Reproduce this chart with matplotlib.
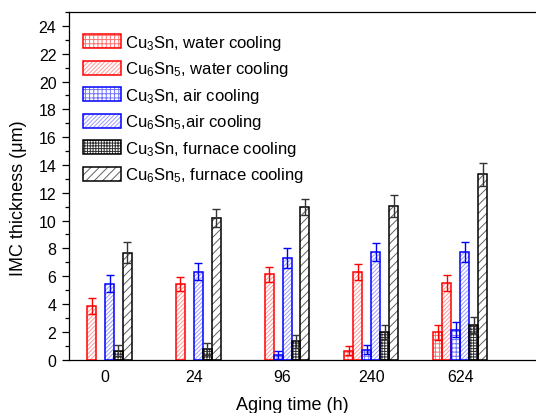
import matplotlib
matplotlib.use("Agg")
import matplotlib.pyplot as plt
from matplotlib.patches import Patch
from matplotlib.legend_handler import HandlerTuple
from matplotlib.ticker import MultipleLocator
import numpy as np

# 数据
hours = ["0", "24", "96", "240", "624"]
nan = np.nan

cu3sn_water = [nan, nan, nan, 0.65, 1.97]
cu3sn_water_err = [nan, nan, nan, 0.31, 0.55]
cu6sn5_water = [3.84, 5.43, 6.13, 6.27, 5.50]
cu6sn5_water_err = [0.58, 0.53, 0.53, 0.58, 0.58]
cu3sn_air = [nan, nan, 0.36, 0.72, 2.16]
cu3sn_air_err = [nan, nan, 0.29, 0.31, 0.53]
cu6sn5_air = [5.45, 6.32, 7.33, 7.73, 7.73]
cu6sn5_air_err = [0.60, 0.60, 0.72, 0.65, 0.70]
cu3sn_furnace = [0.65, 0.75, 1.32, 1.97, 2.47]
cu3sn_furnace_err = [0.40, 0.42, 0.48, 0.50, 0.58]
cu6sn5_furnace = [7.69, 10.16, 10.98, 11.05, 13.33]
cu6sn5_furnace_err = [0.74, 0.65, 0.55, 0.77, 0.82]

labels = [
    "Cu$_3$Sn, water cooling",
    "Cu$_6$Sn$_5$, water cooling",
    "Cu$_3$Sn, air cooling",
    "Cu$_6$Sn$_5$,air cooling",
    "Cu$_3$Sn, furnace cooling",
    "Cu$_6$Sn$_5$, furnace cooling",
]
values = [cu3sn_water, cu6sn5_water, cu3sn_air, cu6sn5_air, cu3sn_furnace, cu6sn5_furnace]
errors = [cu3sn_water_err, cu6sn5_water_err, cu3sn_air_err, cu6sn5_air_err,
          cu3sn_furnace_err, cu6sn5_furnace_err]

# 样式
edge_colors = ["#ff0000", "#ff0000", "#0000ff", "#0000ff", "#000000", "#000000"]
hatch_colors = ["#ff7070", "#ff9a9a", "#7070ff", "#9a9aff", "#303030", "#606060"]
hatches = ["++++", "////////", "++++", "////////", "++++++", "////"]
err_colors = ["#ff0000", "#ff0000", "#0000ff", "#0000ff", "#333333", "#333333"]

plt.rcParams["font.family"] = ["Liberation Sans", "DejaVu Sans"]
plt.rcParams["mathtext.default"] = "regular"
plt.rcParams["hatch.linewidth"] = 0.7

fig = plt.figure(figsize=(5.36, 4.14), dpi=100)
ax = fig.add_axes([0.1287, 0.129, 1.024 - 0.1287, 0.9686 - 0.129])

x = np.arange(1, len(hours) + 1)
width = 0.101
handles = []
for i in range(len(labels)):
    vals = np.array(values[i], dtype=float)
    errs = np.array(errors[i], dtype=float)
    ok = np.isfinite(vals)
    xpos = x + (i - 2.5) * width
    # 填充线层
    ax.bar(xpos[ok], vals[ok], width, color="white", edgecolor=hatch_colors[i],
           hatch=hatches[i], linewidth=0, zorder=2)
    # 边框层
    ax.bar(xpos[ok], vals[ok], width, color="none", edgecolor=edge_colors[i],
           linewidth=1.1, zorder=3)
    ax.errorbar(xpos[ok], vals[ok], yerr=errs[ok], fmt="none", ecolor=err_colors[i],
                elinewidth=1.0, capsize=3.2, capthick=1.0, zorder=4)
    h1 = Patch(facecolor="white", edgecolor=hatch_colors[i], hatch=hatches[i], linewidth=0)
    h2 = Patch(facecolor="none", edgecolor=edge_colors[i], linewidth=1.1)
    handles.append((h1, h2))

ax.set_xlim(0.594, 6.0)
ax.set_ylim(0, 25)
ax.set_xticks(x)
ax.set_xticklabels(hours)
ax.yaxis.set_major_locator(MultipleLocator(2))
ax.yaxis.set_minor_locator(MultipleLocator(1))
ax.tick_params(axis="y", which="major", direction="out", length=5, width=0.9,
               labelsize=11.5, pad=4)
ax.tick_params(axis="y", which="minor", direction="out", length=3, width=0.9)
ax.tick_params(axis="x", length=0, labelsize=11.5, pad=7)
for s in ax.spines.values():
    s.set_linewidth(0.9)

ax.set_ylabel("IMC thickness (μm)", fontsize=13)
ax.yaxis.set_label_coords(-0.088, 0.468)
ax.set_xlabel("Aging time (h)", fontsize=13)
ax.xaxis.set_label_coords(0.465, -0.105)

ax.legend(handles, labels, handler_map={tuple: HandlerTuple(ndivide=1, pad=0)},
          loc="upper left", bbox_to_anchor=(0.029, 0.94), frameon=False,
          fontsize=12, borderpad=0, borderaxespad=0, handlelength=2.3,
          handleheight=0.9, handletextpad=0.25, labelspacing=0.45)

fig.savefig("out.png", dpi=100)
